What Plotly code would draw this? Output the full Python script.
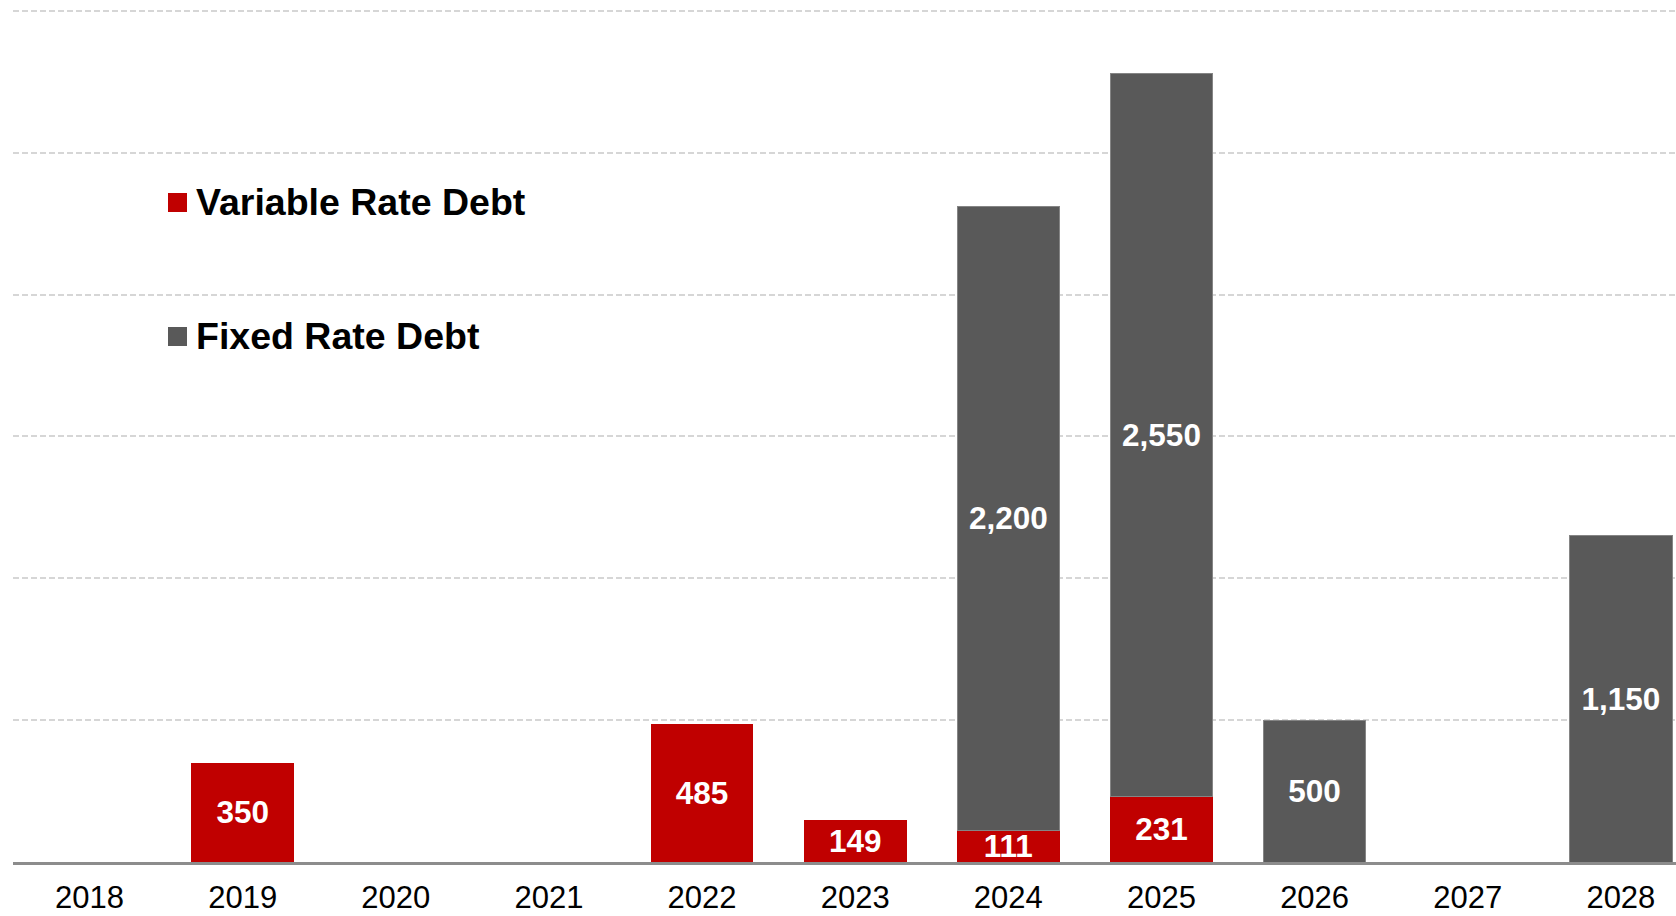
import plotly.graph_objects as go

years = ["2018", "2019", "2020", "2021", "2022", "2023", "2024", "2025", "2026", "2027", "2028"]
variable_rate = [None, 350, None, None, 485, 149, 111, 231, None, None, None]
fixed_rate = [None, None, None, None, None, None, 2200, 2550, 500, None, 1150]
legend_names = ["Variable Rate Debt", "Fixed Rate Debt"]

RED = "#C00000"
GRAY = "#595959"
FONT = "Liberation Sans, Arial, sans-serif"

fig = go.Figure()
fig.add_trace(go.Bar(
    x=years, y=variable_rate, name=legend_names[0],
    marker=dict(color=RED, line=dict(width=0)),
    text=variable_rate, texttemplate="%{y:,}", textposition="inside",
    insidetextanchor="middle", constraintext="none",
    textfont=dict(family=FONT, size=31.5, color="white", weight=700),
    showlegend=False,
))
fig.add_trace(go.Bar(
    x=years, y=fixed_rate, name=legend_names[1],
    marker=dict(color=GRAY, line=dict(width=1, color="#858585")),
    text=fixed_rate, texttemplate="%{y:,}", textposition="inside",
    insidetextanchor="middle", constraintext="none",
    textfont=dict(family=FONT, size=31.5, color="white", weight=700),
    showlegend=False,
))

# custom legend (squares + text)
legend_y = [202, 336]
legend_colors = [RED, GRAY]
W, H = 1676, 916
for name, col, yy in zip(legend_names, legend_colors, legend_y):
    fig.add_shape(type="rect", xref="paper", yref="paper",
                  x0=(168 - 13) / (W - 13), x1=(187 - 13) / (W - 13),
                  y0=(862 - (yy + 10)) / (862 - 3), y1=(862 - (yy - 9)) / (862 - 3),
                  fillcolor=col, line=dict(width=0))
    fig.add_annotation(text=name, xref="paper", yref="paper",
                       x=(194 - 13) / (W - 13), y=(862 - yy) / (862 - 3),
                       xanchor="left", yanchor="middle", showarrow=False,
                       font=dict(family=FONT, size=37.5, color="black", weight=700))

fig.update_layout(
    width=W, height=H,
    margin=dict(l=13, r=0, t=3, b=54),
    barmode="stack", bargap=0.33,
    plot_bgcolor="white", paper_bgcolor="white",
    xaxis=dict(type="category", range=[-0.5, 10.36], automargin=False,
               showline=True, linecolor="#8c8c8c", linewidth=2.5,
               showgrid=False, ticks="", ticklabelstandoff=6,
               tickfont=dict(family=FONT, size=31, color="black")),
    yaxis=dict(range=[0, 3028], dtick=500, tick0=0, automargin=False,
               showticklabels=False, showgrid=True,
               gridcolor="#d6d6d6", gridwidth=1.6, griddash="6px,3px",
               zeroline=False, showline=False),
    showlegend=False,
)

fig.write_html("out.html")
